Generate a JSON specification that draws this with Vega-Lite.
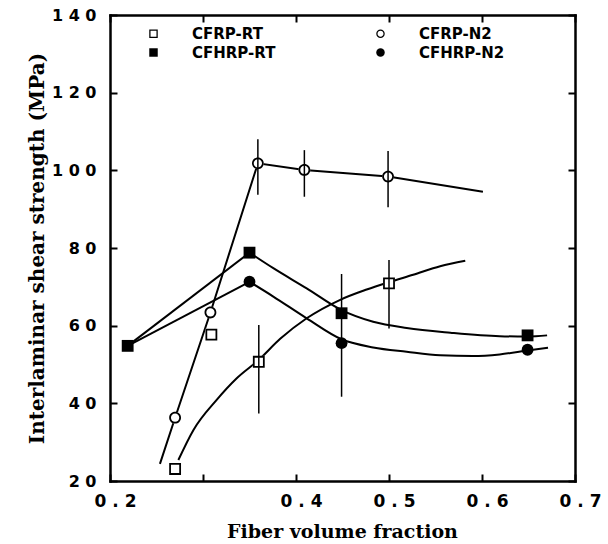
{
  "$schema": "https://vega.github.io/schema/vega-lite/v6.json",
  "width": 465,
  "height": 466,
  "autosize": "none",
  "padding": {"left": 110, "top": 15, "right": 33, "bottom": 63},
  "background": "white",
  "datasets": {
    "markers": [
      {"series": "CFRP-RT", "x": 0.270, "y": 23.1},
      {"series": "CFRP-RT", "x": 0.309, "y": 57.7},
      {"series": "CFRP-RT", "x": 0.360, "y": 50.7},
      {"series": "CFRP-RT", "x": 0.500, "y": 70.9},
      {"series": "CFRP-N2", "x": 0.270, "y": 36.3},
      {"series": "CFRP-N2", "x": 0.308, "y": 63.4},
      {"series": "CFRP-N2", "x": 0.359, "y": 101.8},
      {"series": "CFRP-N2", "x": 0.409, "y": 100.1},
      {"series": "CFRP-N2", "x": 0.499, "y": 98.4},
      {"series": "CFHRP-RT", "x": 0.219, "y": 54.8},
      {"series": "CFHRP-RT", "x": 0.350, "y": 78.8},
      {"series": "CFHRP-RT", "x": 0.449, "y": 63.2},
      {"series": "CFHRP-RT", "x": 0.649, "y": 57.5},
      {"series": "CFHRP-N2", "x": 0.350, "y": 71.3},
      {"series": "CFHRP-N2", "x": 0.449, "y": 55.5},
      {"series": "CFHRP-N2", "x": 0.649, "y": 53.8}
    ],
    "bars": [
      {"x": 0.359, "lo": 93.7, "hi": 108.0},
      {"x": 0.409, "lo": 93.2, "hi": 105.2},
      {"x": 0.499, "lo": 90.5, "hi": 105.0},
      {"x": 0.360, "lo": 37.4, "hi": 60.2},
      {"x": 0.500, "lo": 59.3, "hi": 76.9},
      {"x": 0.449, "lo": 41.7, "hi": 73.3}
    ],
    "lin": [
      {"seg": "CFRP-N2", "x": 0.2537, "y": 24.4},
      {"seg": "CFRP-N2", "x": 0.270, "y": 36.3},
      {"seg": "CFRP-N2", "x": 0.308, "y": 63.4},
      {"seg": "CFRP-N2", "x": 0.359, "y": 101.8},
      {"seg": "CFRP-N2", "x": 0.409, "y": 100.1},
      {"seg": "CFRP-N2", "x": 0.499, "y": 98.4},
      {"seg": "CFRP-N2", "x": 0.601, "y": 94.5},
      {"seg": "CFHRP-RT-a", "x": 0.219, "y": 54.8},
      {"seg": "CFHRP-RT-a", "x": 0.350, "y": 78.8},
      {"seg": "CFHRP-N2-a", "x": 0.219, "y": 54.8},
      {"seg": "CFHRP-N2-a", "x": 0.350, "y": 71.3}
    ],
    "curve": [
      {"seg": "CFRP-RT", "x": 0.2735, "y": 25.4},
      {"seg": "CFRP-RT", "x": 0.2896, "y": 33.1},
      {"seg": "CFRP-RT", "x": 0.3147, "y": 40.9},
      {"seg": "CFRP-RT", "x": 0.336, "y": 46.4},
      {"seg": "CFRP-RT", "x": 0.360, "y": 51.2},
      {"seg": "CFRP-RT", "x": 0.383, "y": 56.6},
      {"seg": "CFRP-RT", "x": 0.4115, "y": 61.9},
      {"seg": "CFRP-RT", "x": 0.447, "y": 66.6},
      {"seg": "CFRP-RT", "x": 0.476, "y": 69.3},
      {"seg": "CFRP-RT", "x": 0.500, "y": 71.2},
      {"seg": "CFRP-RT", "x": 0.526, "y": 73.1},
      {"seg": "CFRP-RT", "x": 0.555, "y": 75.3},
      {"seg": "CFRP-RT", "x": 0.582, "y": 76.7},
      {"seg": "CFHRP-RT-b", "x": 0.350, "y": 78.8},
      {"seg": "CFHRP-RT-b", "x": 0.3756, "y": 74.8},
      {"seg": "CFHRP-RT-b", "x": 0.4115, "y": 69.6},
      {"seg": "CFHRP-RT-b", "x": 0.449, "y": 64.0},
      {"seg": "CFHRP-RT-b", "x": 0.483, "y": 61.0},
      {"seg": "CFHRP-RT-b", "x": 0.519, "y": 59.4},
      {"seg": "CFHRP-RT-b", "x": 0.566, "y": 58.2},
      {"seg": "CFHRP-RT-b", "x": 0.619, "y": 57.3},
      {"seg": "CFHRP-RT-b", "x": 0.649, "y": 57.2},
      {"seg": "CFHRP-RT-b", "x": 0.670, "y": 57.5},
      {"seg": "CFHRP-N2-b", "x": 0.350, "y": 71.3},
      {"seg": "CFHRP-N2-b", "x": 0.3756, "y": 67.5},
      {"seg": "CFHRP-N2-b", "x": 0.4115, "y": 61.9},
      {"seg": "CFHRP-N2-b", "x": 0.449, "y": 56.5},
      {"seg": "CFHRP-N2-b", "x": 0.483, "y": 54.4},
      {"seg": "CFHRP-N2-b", "x": 0.519, "y": 53.3},
      {"seg": "CFHRP-N2-b", "x": 0.555, "y": 52.4},
      {"seg": "CFHRP-N2-b", "x": 0.590, "y": 52.2},
      {"seg": "CFHRP-N2-b", "x": 0.619, "y": 52.6},
      {"seg": "CFHRP-N2-b", "x": 0.649, "y": 53.6},
      {"seg": "CFHRP-N2-b", "x": 0.671, "y": 54.3}
    ]
  },
  "resolve": {"axis": {"x": "independent", "y": "independent"}},
  "layer": [
    {
      "data": {"name": "lin"},
      "mark": {"type": "line", "color": "black", "strokeWidth": 2, "interpolate": "linear"},
      "encoding": {
        "x": {"field": "x", "type": "quantitative",
              "scale": {"domain": [0.2, 0.7], "nice": false, "zero": false}, "axis": null},
        "y": {"field": "y", "type": "quantitative",
              "scale": {"domain": [20, 140], "nice": false, "zero": false}, "axis": null},
        "detail": {"field": "seg"}
      }
    },
    {
      "data": {"name": "curve"},
      "mark": {"type": "line", "color": "black", "strokeWidth": 2, "interpolate": "monotone"},
      "encoding": {
        "x": {"field": "x", "type": "quantitative", "axis": null},
        "y": {"field": "y", "type": "quantitative", "axis": null},
        "detail": {"field": "seg"}
      }
    },
    {
      "data": {"name": "markers"},
      "transform": [{"filter": "datum.series == 'CFRP-RT'"}],
      "mark": {"type": "point", "shape": "square", "filled": true, "color": "white", "opacity": 1, "size": 140},
      "encoding": {
        "x": {"field": "x", "type": "quantitative", "axis": null},
        "y": {"field": "y", "type": "quantitative", "axis": null}
      }
    },
    {
      "data": {"name": "markers"},
      "transform": [{"filter": "datum.series == 'CFRP-N2'"}],
      "mark": {"type": "point", "shape": "circle", "filled": true, "color": "white", "opacity": 1, "size": 140},
      "encoding": {
        "x": {"field": "x", "type": "quantitative", "axis": null},
        "y": {"field": "y", "type": "quantitative", "axis": null}
      }
    },
    {
      "data": {"name": "bars"},
      "mark": {"type": "rule", "color": "black", "strokeWidth": 1.5},
      "encoding": {
        "x": {"field": "x", "type": "quantitative",
              "axis": {"orient": "top", "labels": false, "title": null, "values": [0.2, 0.3, 0.4, 0.5, 0.6, 0.7], "tickSize": -7}},
        "y": {"field": "lo", "type": "quantitative",
              "axis": {"orient": "right", "labels": false, "title": null, "values": [20, 40, 60, 80, 100, 120, 140], "tickSize": -7}},
        "y2": {"field": "hi"}
      }
    },
    {
      "data": {"name": "markers"},
      "mark": {"type": "point", "filled": true, "color": "black", "opacity": 1, "size": 140},
      "encoding": {
        "x": {"field": "x", "type": "quantitative",
              "axis": {"orient": "bottom", "title": "Fiber volume fraction", "values": [0.2, 0.3, 0.4, 0.5, 0.6, 0.7],
                       "tickSize": -7, "labelPadding": 19, "labelOffset": 5, "labelFontSize": 17,
                       "labelExpr": "datum.value == 0.3 ? '' : join(split(datum.label, ''), ' ')",
                       "titleFont": "DejaVu Serif", "titleFontSize": 19, "titleX": 232, "titleY": 50,
                       "titleBaseline": "middle", "titleAlign": "center"}},
        "y": {"field": "y", "type": "quantitative",
              "axis": {"orient": "left", "title": "Interlaminar shear strength (MPa)", "values": [20, 40, 60, 80, 100, 120, 140],
                       "tickSize": -7, "labelPadding": 21, "labelFontSize": 16,
                       "labelExpr": "join(split(datum.label, ''), ' ')",
                       "titleFont": "DejaVu Serif", "titleFontSize": 20, "titleX": -73, "titleY": 233,
                       "titleBaseline": "middle", "titleAlign": "center", "titleAngle": -90}},
        "shape": {"field": "series", "type": "nominal",
                  "scale": {"domain": ["CFRP-RT", "CFRP-N2", "CFHRP-RT", "CFHRP-N2"],
                            "range": [
                              "M-1,-1H1V1H-1Z M-0.7,-0.7V0.7H0.7V-0.7Z",
                              "M1,0A1,1,0,1,1,-1,0A1,1,0,1,1,1,0Z M0.7,0A0.7,0.7,0,1,0,-0.7,0A0.7,0.7,0,1,0,0.7,0Z",
                              "square",
                              "circle"]},
                  "legend": {"title": null, "orient": "none", "legendX": 36, "legendY": 11, "direction": "horizontal", "columns": 2}}
      }
    }
  ],
  "config": {
    "view": {"stroke": null},
    "axis": {
      "domainColor": "black", "domainWidth": 2.5, "domainCap": "square",
      "tickColor": "black", "tickWidth": 2, "grid": false,
      "labelColor": "black", "labelFont": "DejaVu Sans", "labelFontWeight": "bold",
      "titleColor": "black", "titleFontWeight": "bold",
      "labelFlush": false, "labelOverlap": false
    },
    "legend": {
      "labelFont": "DejaVu Sans", "labelFontWeight": "bold", "labelFontSize": 15, "labelColor": "black",
      "labelOffset": 31, "columnPadding": 97, "rowPadding": 3, "symbolSize": 72,
      "symbolFillColor": "black", "symbolStrokeWidth": 0, "gridAlign": "each", "labelLimit": 300
    }
  }
}
